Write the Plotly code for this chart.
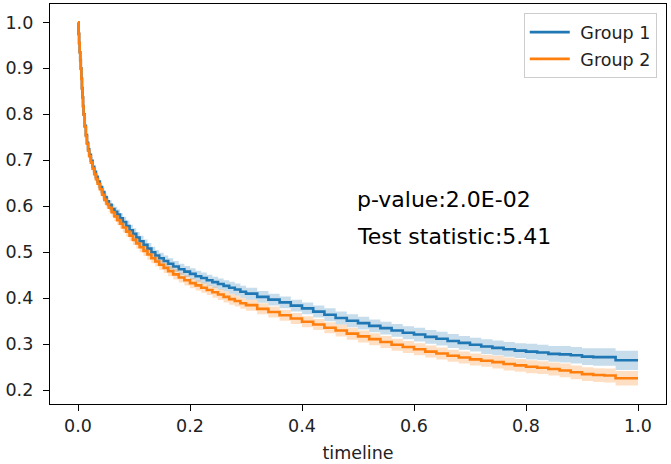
import plotly.graph_objects as go

# Kaplan-Meier style survival estimates
timeline = [0, 0.001, 0.002, 0.003, 0.004, 0.005, 0.006, 0.007, 0.008, 0.009, 0.010,
            0.012, 0.014, 0.016, 0.018, 0.020,
            0.023, 0.026, 0.029, 0.032, 0.035,
            0.039, 0.043, 0.047, 0.051, 0.055,
            0.060, 0.065, 0.070, 0.075, 0.080,
            0.086, 0.092, 0.098, 0.104, 0.110,
            0.117, 0.124, 0.131, 0.138, 0.145,
            0.153, 0.161, 0.170, 0.180, 0.190,
            0.20, 0.21, 0.22, 0.23, 0.24, 0.25, 0.26, 0.27, 0.28, 0.29, 0.30,
            0.32, 0.34, 0.36, 0.38, 0.40, 0.42, 0.44, 0.46, 0.48, 0.50,
            0.52, 0.54, 0.56, 0.58, 0.60, 0.62, 0.64, 0.66, 0.68, 0.70,
            0.72, 0.74, 0.76, 0.78, 0.80, 0.82, 0.84, 0.86, 0.88, 0.90,
            0.92, 0.94, 0.96, 0.98, 1.0]

group1_surv = [1.0, 0.975, 0.955, 0.935, 0.918, 0.900, 0.878, 0.857, 0.837, 0.818, 0.800,
               0.775, 0.755, 0.738, 0.724, 0.712,
               0.699, 0.686, 0.675, 0.664, 0.654,
               0.642, 0.631, 0.620, 0.611, 0.603,
               0.594, 0.588, 0.582, 0.574, 0.566,
               0.557, 0.548, 0.540, 0.532, 0.524,
               0.516, 0.508, 0.500, 0.493, 0.487,
               0.481, 0.475, 0.469, 0.463, 0.458,
               0.453, 0.448, 0.444, 0.439, 0.435, 0.431, 0.427, 0.423, 0.419, 0.414, 0.410,
               0.403, 0.397, 0.391, 0.384, 0.378, 0.371, 0.364, 0.357, 0.351, 0.346,
               0.340, 0.335, 0.330, 0.325, 0.321, 0.316, 0.312, 0.307, 0.303, 0.299,
               0.295, 0.292, 0.289, 0.286, 0.284, 0.282, 0.279, 0.278, 0.276, 0.273,
               0.272, 0.272, 0.265, 0.265, 0.265]

group2_surv = [1.0, 0.975, 0.955, 0.935, 0.917, 0.899, 0.877, 0.856, 0.836, 0.817, 0.799,
               0.773, 0.753, 0.736, 0.721, 0.709,
               0.695, 0.682, 0.670, 0.659, 0.649,
               0.637, 0.625, 0.614, 0.605, 0.597,
               0.587, 0.578, 0.570, 0.562, 0.554,
               0.545, 0.536, 0.527, 0.519, 0.511,
               0.503, 0.495, 0.487, 0.480, 0.473,
               0.466, 0.459, 0.452, 0.445, 0.439,
               0.433, 0.428, 0.423, 0.418, 0.413, 0.408, 0.403, 0.398, 0.394, 0.389, 0.385,
               0.377, 0.370, 0.363, 0.356, 0.349, 0.343, 0.336, 0.330, 0.323, 0.317,
               0.311, 0.305, 0.299, 0.294, 0.289, 0.284, 0.280, 0.275, 0.271, 0.267,
               0.264, 0.261, 0.257, 0.254, 0.251, 0.249, 0.246, 0.243, 0.239, 0.235,
               0.233, 0.232, 0.226, 0.226, 0.226]

# confidence-interval half widths
group1_ci = [0.0, 0.002, 0.003, 0.003, 0.004, 0.004, 0.005, 0.005, 0.005, 0.006, 0.006,
             0.006, 0.007, 0.007, 0.007, 0.008,
             0.008, 0.008, 0.009, 0.009, 0.009,
             0.009, 0.010, 0.010, 0.010, 0.010,
             0.011, 0.011, 0.011, 0.011, 0.011,
             0.012, 0.012, 0.012, 0.012, 0.012,
             0.012, 0.012, 0.012, 0.012, 0.012,
             0.012, 0.012, 0.012, 0.012, 0.012,
             0.012, 0.012, 0.012, 0.012, 0.012, 0.012, 0.012, 0.013, 0.013, 0.013, 0.013,
             0.013, 0.013, 0.013, 0.013, 0.013, 0.013, 0.014, 0.014, 0.014, 0.014,
             0.014, 0.014, 0.014, 0.014, 0.015, 0.015, 0.015, 0.015, 0.015, 0.015,
             0.016, 0.016, 0.016, 0.016, 0.017, 0.017, 0.017, 0.018, 0.018, 0.018,
             0.019, 0.019, 0.021, 0.021, 0.021]

group2_ci = [0.0, 0.002, 0.003, 0.003, 0.004, 0.004, 0.005, 0.005, 0.005, 0.006, 0.006,
             0.006, 0.007, 0.007, 0.007, 0.008,
             0.008, 0.008, 0.009, 0.009, 0.009,
             0.009, 0.010, 0.010, 0.010, 0.010,
             0.010, 0.010, 0.011, 0.011, 0.011,
             0.011, 0.011, 0.011, 0.011, 0.011,
             0.011, 0.011, 0.011, 0.011, 0.011,
             0.011, 0.011, 0.011, 0.011, 0.011,
             0.011, 0.011, 0.011, 0.011, 0.012, 0.012, 0.012, 0.012, 0.012, 0.012, 0.012,
             0.012, 0.012, 0.012, 0.012, 0.012, 0.012, 0.012, 0.013, 0.013, 0.013,
             0.013, 0.013, 0.013, 0.013, 0.013, 0.013, 0.013, 0.013, 0.013, 0.013,
             0.013, 0.014, 0.014, 0.014, 0.014, 0.014, 0.014, 0.015, 0.015, 0.015,
             0.015, 0.015, 0.016, 0.016, 0.016]

group_names = ["Group 1", "Group 2"]
colors = ["#1f77b4", "#ff7f0e"]
band_colors = ["rgba(31,119,180,0.25)", "rgba(255,127,14,0.25)"]

x_ticks = [0.0, 0.2, 0.4, 0.6, 0.8, 1.0]
y_ticks = [0.2, 0.3, 0.4, 0.5, 0.6, 0.7, 0.8, 0.9, 1.0]

p_value_text = "p-value:2.0E-02"
stat_text = "Test statistic:5.41"

FONT = "DejaVu Sans"
FS = 17.5

fig = go.Figure()
for name, surv, ci, col, bcol in zip(group_names, [group1_surv, group2_surv],
                                     [group1_ci, group2_ci], colors, band_colors):
    lo = [s - c for s, c in zip(surv, ci)]
    hi = [s + c for s, c in zip(surv, ci)]
    fig.add_trace(go.Scatter(x=timeline, y=lo, mode="lines", line=dict(width=0, shape="hv"),
                             showlegend=False, hoverinfo="skip"))
    fig.add_trace(go.Scatter(x=timeline, y=hi, mode="lines", line=dict(width=0, shape="hv"),
                             fill="tonexty", fillcolor=bcol, showlegend=False, hoverinfo="skip"))
    fig.add_trace(go.Scatter(x=timeline, y=surv, mode="lines", name="\u00a0" + name,
                             legendgroup=name,
                             line=dict(color=col, width=2.6, shape="hv")))

fig.add_annotation(x=0.5, y=0.6, xref="x", yref="y", text=p_value_text, showarrow=False,
                   xanchor="left", yanchor="bottom", yshift=-8, xshift=-3,
                   font=dict(family=FONT, size=22, color="black"))
fig.add_annotation(x=0.5, y=0.52, xref="x", yref="y", text=stat_text, showarrow=False,
                   xanchor="left", yanchor="bottom", yshift=-8, xshift=-3,
                   font=dict(family=FONT, size=22, color="black"))

axis_common = dict(showline=True, linecolor="black", linewidth=1.4, mirror=True,
                   ticks="outside", ticklen=6, tickwidth=1.3, tickcolor="black",
                   showgrid=False, zeroline=False,
                   tickfont=dict(family=FONT, size=FS, color="#222222"))

fig.update_xaxes(range=[-0.05, 1.05], tickvals=x_ticks,
                 ticktext=[f"{v:.1f}" for v in x_ticks],
                 ticklabelstandoff=0,
                 title=dict(text="timeline", font=dict(family=FONT, size=FS, color="#222222"),
                            standoff=11),
                 **axis_common)
fig.update_yaxes(range=[0.17, 1.04], tickvals=y_ticks,
                 ticktext=[f"{v:.1f}" for v in y_ticks],
                 ticklabelstandoff=6,
                 **axis_common)

fig.update_layout(
    width=671, height=464,
    margin=dict(l=50, r=5, t=4, b=60),
    paper_bgcolor="white", plot_bgcolor="white",
    font=dict(family=FONT, color="black"),
    legend=dict(x=0.985, y=0.977, xanchor="right", yanchor="top",
                bordercolor="#cccccc", borderwidth=1, bgcolor="rgba(255,255,255,0.8)",
                font=dict(family=FONT, size=FS, color="#222222"),
                itemwidth=40, tracegroupgap=1),
)

fig.write_html("out.html", config={"displayModeBar": False},
               post_script="document.body.style.margin='0';document.body.style.overflow='hidden';")
